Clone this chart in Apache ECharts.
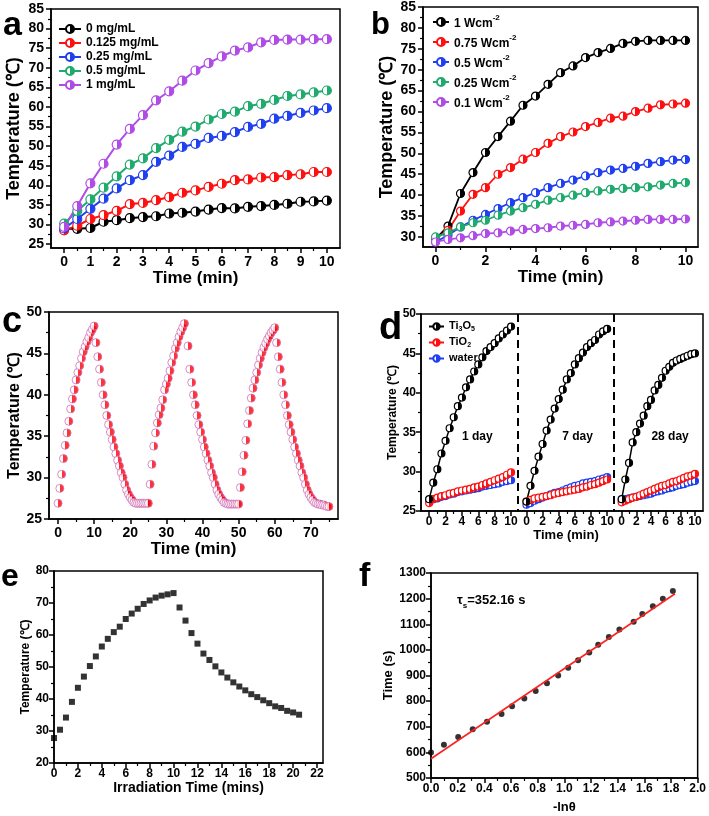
<!DOCTYPE html>
<html><head><meta charset="utf-8">
<script src="https://cdn.jsdelivr.net/npm/echarts@6/dist/echarts.min.js"></script>
<style>html,body{margin:0;padding:0;background:#fff}#c{width:709px;height:816px}</style>
</head><body><div id="c"></div>
<script>
// ---------------- DATA ----------------
// panel a
const aTime = [0,0.5,1,1.5,2,2.5,3,3.5,4,4.5,5,5.5,6,6.5,7,7.5,8,8.5,9,9.5,10];
const aNames = ['0 mg/mL','0.125 mg/mL','0.25 mg/mL','0.5 mg/mL','1 mg/mL'];
const a_0    = [28.9,28.9,29.1,30.7,31.1,31.6,31.9,32.1,32.8,33.0,33.3,33.8,34.2,34.1,34.5,34.7,35.0,35.3,35.8,35.9,36.1];
const a_0125 = [28.5,29.7,31.4,32.4,33.5,35.2,35.5,36.2,37.0,38.1,38.7,39.6,40.4,41.3,41.5,42.0,42.1,42.6,42.8,43.4,43.4];
const a_025  = [29.0,31.4,34.0,36.6,39.2,41.3,42.6,46.0,47.6,49.8,50.6,52.1,52.6,53.6,54.9,55.7,57.0,57.7,58.5,59.1,59.7];
const a_05   = [30.2,33.5,36.4,39.4,42.3,45.3,46.9,49.5,51.6,53.7,55.0,56.8,58.2,58.8,60.2,60.8,61.8,62.8,63.2,63.7,64.2];
const a_1    = [29.4,34.7,40.5,45.5,50.4,54.4,57.9,61.7,64.0,66.7,69.3,71.2,72.9,74.4,75.2,76.5,77.1,77.2,77.2,77.3,77.3];
const aXLabels = [0,1,2,3,4,5,6,7,8,9,10];
const aYLabels = [25,30,35,40,45,50,55,60,65,70,75,80,85];
// panel b
const bTime = [0,0.5,1,1.5,2,2.5,3,3.5,4,4.5,5,5.5,6,6.5,7,7.5,8,8.5,9,9.5,10];
const bNames = ['1 Wcm-2','0.75 Wcm-2','0.5 Wcm-2','0.25 Wcm-2','0.1 Wcm-2'];
const b_1   = [29.5,32.6,40.4,45.4,50.2,54.0,57.7,61.5,63.7,66.5,69.3,70.9,72.9,74.1,75.1,76.3,76.8,77.0,77.0,77.0,77.0];
const b_075 = [29.6,31.6,36.2,40.2,41.8,45.0,46.6,48.6,50.2,52.4,54.0,55.1,56.4,57.4,58.4,58.9,60.0,60.8,61.6,61.8,62.0];
const b_05  = [28.8,30.4,32.4,34.0,35.4,36.8,38.2,39.4,40.6,41.8,42.8,43.6,44.6,45.4,46.0,46.4,46.9,47.6,48.0,48.4,48.5];
const b_025 = [30.0,31.0,32.4,33.4,34.0,35.2,36.2,37.0,37.8,38.8,39.4,40.0,40.6,41.0,41.4,41.6,41.8,42.0,42.4,42.8,43.0];
const b_01  = [28.8,29.4,29.8,30.3,30.8,31.0,31.4,31.8,32.0,32.2,32.6,32.8,33.0,33.4,33.6,33.8,34.0,34.2,34.2,34.2,34.3];
const bXLabels = [0,2,4,6,8,10];
const bYLabels = [30,35,40,45,50,55,60,65,70,75,80,85];
// panel c (heating / cooling cycles, 0.5 min sampling)
const cHeat1Start = 0,  cHeat1 = [26.9,28.7,30.4,32.3,33.9,35.4,36.8,38.3,39.5,40.6,41.8,42.7,43.5,44.4,45.2,45.8,46.4,46.9,47.5,47.9,48.3];
const cCool1Start = 10.5, cCool1 = [46.3,44.6,43.1,41.5,40.0,38.8,37.5,36.4,35.5,34.6,33.7,32.9,32.1,31.4,30.6,30.0,29.2,28.5,28.0,27.6,27.3,27.0,26.9,26.9,26.9,26.9,26.9,26.9,26.9];
const cHeat2Start = 25, cHeat2 = [26.9,29.2,31.6,33.8,35.4,36.6,37.6,38.4,39.4,40.6,41.3,42.0,42.9,43.9,44.7,45.6,46.3,47.0,47.6,48.1,48.6];
const cCool2Start = 36, cCool2 = [45.9,43.1,41.5,40.0,38.8,37.5,36.4,35.5,34.6,33.7,32.9,32.1,31.4,30.6,30.0,29.2,28.5,28.0,27.6,27.3,27.0,26.9,26.8,26.8,26.8,26.8,26.8,26.8];
const cHeat3Start = 50, cHeat3 = [26.8,28.8,30.7,32.7,34.5,36.5,38.1,39.6,40.8,41.8,42.7,43.6,44.4,45.1,45.7,46.2,46.7,47.1,47.5,47.8,48.1];
const cCool3Start = 60.5, cCool3 = [46.3,44.6,43.1,41.5,40.0,38.8,37.5,36.4,35.5,34.6,33.7,32.9,32.1,31.4,30.6,30.0,29.2,28.5,28.0,27.6,27.3,27.0,26.9,26.8,26.8,26.7,26.7,26.6,26.5,26.5];
const cStep = 0.5;
const cXLabels = [0,10,20,30,40,50,60,70];
const cYLabels = [25,30,35,40,45,50];
// panel d
const dTime = [0,0.5,1,1.5,2,2.5,3,3.5,4,4.5,5,5.5,6,6.5,7,7.5,8,8.5,9,9.5,10];
const dNames = ['Ti3O5','TiO2','water'];
const dDays = ['1 day','7 day','28 day'];
const d1_Ti3O5 = [26.5,28.6,30.3,32.3,33.9,35.5,36.9,38.3,39.4,40.7,41.7,42.7,43.6,44.5,45.3,45.8,46.3,46.9,47.4,47.9,48.4];
const d1_TiO2  = [26.0,26.5,26.7,26.9,27.0,27.2,27.3,27.5,27.6,27.7,27.8,28.0,28.1,28.3,28.5,28.7,28.9,29.1,29.3,29.6,29.9];
const d1_water = [26.4,26.5,26.6,26.8,26.9,27.1,27.2,27.4,27.5,27.6,27.7,27.8,27.9,28.1,28.2,28.3,28.4,28.5,28.7,28.8,28.9];
const d2_Ti3O5 = [26.2,28.2,30.1,31.9,33.5,35.2,36.6,38.0,39.2,40.4,41.7,42.5,43.6,44.4,45.1,45.8,46.3,46.7,47.4,47.8,48.1];
const d2_TiO2  = [26.2,26.4,26.6,26.7,26.8,26.9,27.0,27.2,27.3,27.4,27.5,27.6,27.7,27.8,28.0,28.1,28.3,28.4,28.6,28.8,29.0];
const d2_water = [25.8,26.0,26.3,26.5,26.7,26.9,27.1,27.3,27.4,27.6,27.8,28.0,28.2,28.3,28.5,28.6,28.7,28.8,29.0,29.1,29.3];
const d3_Ti3O5 = [26.5,29.0,31.1,33.7,35.0,36.1,37.1,38.3,39.1,40.3,41.0,41.9,42.8,43.3,43.8,44.1,44.3,44.5,44.7,44.9,45.0];
const d3_TiO2  = [26.1,26.3,26.5,26.7,26.8,27.0,27.2,27.4,27.6,27.8,28.0,28.2,28.3,28.5,28.7,28.8,29.0,29.2,29.4,29.5,29.7];
const d3_water = [26.4,26.5,26.6,26.7,26.8,26.9,27.0,27.1,27.2,27.4,27.5,27.6,27.8,27.9,28.0,28.2,28.3,28.4,28.6,28.7,28.8];
const dXLabels = [0,2,4,6,8,10];
const dYLabels = [25,30,35,40,45,50];
// panel e
const eTime = [0,0.5,1,1.5,2,2.5,3,3.5,4,4.5,5,5.5,6,6.5,7,7.5,8,8.5,9,9.5,10,10.5,11,11.5,12,12.5,13,13.5,14,14.5,15,15.5,16,16.5,17,17.5,18,18.5,19,19.5,20,20.5];
const eTemp = [27.8,30.4,34.2,39.1,43.5,47.0,50.3,53.3,56.4,58.8,60.9,62.6,65.0,66.7,68.2,69.7,70.8,71.7,72.3,72.7,73.1,68.6,64.5,60.6,57.3,54.2,52.2,50.2,48.3,46.7,45.2,43.9,42.7,41.5,40.6,39.6,38.7,37.7,37.2,36.3,35.8,35.1];
const eXLabels = [0,2,4,6,8,10,12,14,16,18,20,22];
const eYLabels = [20,30,40,50,60,70,80];
// panel f
const fX = [0,0.097,0.204,0.313,0.420,0.529,0.608,0.700,0.785,0.870,0.954,1.029,1.103,1.187,1.254,1.334,1.413,1.520,1.585,1.664,1.739,1.814];
const fY = [600,630,660,690,720,750,780,810,840,870,900,930,960,990,1020,1050,1080,1110,1140,1170,1200,1230];
const fFitX = [0,1.83];
const fFitY = [575,1219];
const fXLabels = [0,0.2,0.4,0.6,0.8,1.0,1.2,1.4,1.6,1.8,2.0];
const fYLabels = [500,600,700,800,900,1000,1100,1200,1300];

// ---------------- CHART ----------------
const FONT = '"Liberation Sans", Arial, Helvetica, sans-serif';
const C = {black:'#000000', red:'#ff1010', blue:'#2040f0', green:'#1faa6e', purple:'#b04ce6'};
function mids(arr){ const r=[]; for(let i=0;i<arr.length-1;i++) r.push((arr[i]+arr[i+1])/2); return r; }
function xy(xs, ys){ return xs.map((x,i)=>[x, ys[i]]); }
function seq(start, vals){ return vals.map((v,i)=>[start + i*cStep, v]); }
function half(c){
  return new echarts.graphic.LinearGradient(0,0,1,0,[
    {offset:0,color:'#ffffff'},{offset:0.5,color:'#ffffff'},{offset:0.5,color:c},{offset:1,color:c}]);
}
const plain = v => String(v);

const L = {
  a:{left:51, top:9, width:289, height:239},
  b:{left:423, top:7, width:275, height:240},
  c:{left:49, top:312, width:289, height:207},
  d1:{left:421, top:314, width:97, height:197},
  d2:{left:518, top:314, width:96, height:197},
  d3:{left:614, top:314, width:89, height:197},
  e:{left:54, top:571, width:269, height:192},
  f:{left:431, top:573, width:268, height:205}
};
const frame = {show:true, borderColor:'#000', borderWidth:1.5, backgroundColor:'transparent'};
const grid = [
  Object.assign({}, L.a, frame),
  Object.assign({}, L.b, frame),
  Object.assign({}, L.c, frame),
  Object.assign({}, L.d1, {show:false}),
  Object.assign({}, L.d2, {show:false}),
  Object.assign({}, L.d3, {show:false}),
  Object.assign({}, L.e, frame),
  Object.assign({}, L.f, frame)
];

const xAxis = [], yAxis = [];
function addAxis(list, dim, gi, min, max, labels, minor, o){
  o = o || {};
  const pos = dim === 'x' ? 'bottom' : 'left';
  const base = {type:'value', gridIndex:gi, min:min, max:max, position:pos, splitLine:{show:false}, silent:true};
  const lab = {show:!o.hide, customValues:labels, fontFamily:FONT, fontWeight:'bold', fontSize:o.size||13, color:'#000', margin:o.margin||7,
    formatter:o.fmt || plain};
  const main = Object.assign({}, base, {
    name:o.name||'', nameLocation:'middle', nameGap:o.gap||20,
    nameTextStyle:{fontFamily:FONT, fontWeight:'bold', fontSize:o.nameSize||14, color:'#000'},
    axisLine:{show:!o.hide, onZero:false, lineStyle:{color:'#000', width:1.5}},
    axisTick:{show:!o.hide, customValues:labels, length:5, lineStyle:{color:'#000', width:1.5}},
    axisLabel:lab
  });
  list.push(main);
  const idx = list.length - 1;
  if (minor && !o.hide) {
    list.push(Object.assign({}, base, {
      axisLine:{show:false, onZero:false},
      axisTick:{show:true, customValues:minor, length:3, lineStyle:{color:'#000', width:1.2}},
      axisLabel:{show:false}
    }));
  }
  return idx;
}

const ax = {}, ay = {};
ax.a = addAxis(xAxis,'x',0,-0.5,10.5,aXLabels,mids(aXLabels),{name:'Time (min)',gap:22,nameSize:17,size:14});
ay.a = addAxis(yAxis,'y',0,24,85,aYLabels,mids(aYLabels),{name:'Temperature (\u2103)',gap:28,nameSize:18,size:14});
ax.b = addAxis(xAxis,'x',1,-0.5,10.5,bXLabels,mids(bXLabels),{name:'Time (min)',gap:21,nameSize:17,size:14});
ay.b = addAxis(yAxis,'y',1,27.6,85,bYLabels,mids(bYLabels),{name:'Temperature (\u2103)',gap:25,nameSize:18,size:14});
ax.c = addAxis(xAxis,'x',2,-2.5,77.5,cXLabels,mids(cXLabels).concat([75]),{name:'Time (min)',gap:20,nameSize:17,size:14});
ay.c = addAxis(yAxis,'y',2,25,50,cYLabels,mids(cYLabels),{name:'Temperature (\u2103)',gap:22,nameSize:16,size:14});
ax.d1 = addAxis(xAxis,'x',3,-1,10.85,dXLabels,mids(dXLabels),{size:12,margin:5});
ax.d2 = addAxis(xAxis,'x',4,-1.05,10.85,dXLabels,mids(dXLabels),{size:12,margin:5,name:'Time (min)',gap:17,nameSize:13});
ax.d3 = addAxis(xAxis,'x',5,-1.05,11.1,dXLabels,mids(dXLabels),{size:12,margin:5});
ay.d1 = addAxis(yAxis,'y',3,25,50,dYLabels,mids(dYLabels),{size:12,margin:5,name:'Temperature (\u2103)',gap:19,nameSize:12});
ay.d2 = addAxis(yAxis,'y',4,25,50,dYLabels,null,{hide:true});
ay.d3 = addAxis(yAxis,'y',5,25,50,dYLabels,null,{hide:true});
ax.e = addAxis(xAxis,'x',6,0,22.5,eXLabels,mids(eXLabels),{name:'Irradiation Time (mins)',gap:18,nameSize:14,size:12,margin:5});
ay.e = addAxis(yAxis,'y',6,20,80,eYLabels,mids(eYLabels),{name:'Temperature (\u2103)',gap:21,nameSize:12,size:12,margin:5});
ax.f = addAxis(xAxis,'x',7,0,2.0,fXLabels,mids(fXLabels),{name:'-ln\u03b8',gap:23,nameSize:13,size:12,margin:5,fmt:v=>Number(v).toFixed(1)});
ay.f = addAxis(yAxis,'y',7,500,1300,fYLabels,mids(fYLabels),{name:'Time (s)',gap:33,nameSize:13,size:12,margin:5});

function lineS(name, xi, yi, xs, ys, color, size, lw){
  return {type:'line', name:name, xAxisIndex:xi, yAxisIndex:yi, data:xy(xs,ys), symbol:'circle', symbolSize:size,
    showAllSymbol:true, color:color, lineStyle:{color:color, width:lw},
    itemStyle:{color:half(color), borderColor:color, borderWidth:1.2}, emphasis:{disabled:true}};
}
const series = [];
[[a_0,C.black],[a_0125,C.red],[a_025,C.blue],[a_05,C.green],[a_1,C.purple]].forEach((p,i)=>{
  series.push(lineS(aNames[i], ax.a, ay.a, aTime, p[0], p[1], 9, 2));
});
[[b_1,C.black],[b_075,C.red],[b_05,C.blue],[b_025,C.green],[b_01,C.purple]].forEach((p,i)=>{
  series.push(lineS(bNames[i], ax.b, ay.b, bTime, p[0], p[1], 8, 1.8));
});
const cData = [].concat(seq(cHeat1Start,cHeat1), seq(cCool1Start,cCool1), seq(cHeat2Start,cHeat2),
  seq(cCool2Start,cCool2), seq(cHeat3Start,cHeat3), seq(cCool3Start,cCool3));
series.push({type:'scatter', name:'cycles', xAxisIndex:ax.c, yAxisIndex:ay.c, data:cData, symbol:'circle', symbolSize:8,
  itemStyle:{color:half('#ff0000'), borderColor:'#d070b8', borderWidth:1}, emphasis:{disabled:true}});
const dSets = [[d1_Ti3O5,d1_TiO2,d1_water],[d2_Ti3O5,d2_TiO2,d2_water],[d3_Ti3O5,d3_TiO2,d3_water]];
const dX = [ax.d1, ax.d2, ax.d3], dY = [ay.d1, ay.d2, ay.d3];
dSets.forEach((set, k)=>{
  series.push(lineS(dNames[2], dX[k], dY[k], dTime, set[2], C.blue, 7, 1.5));
  series.push(lineS(dNames[1], dX[k], dY[k], dTime, set[1], C.red, 7, 1.5));
  series.push(lineS(dNames[0], dX[k], dY[k], dTime, set[0], C.black, 7, 1.5));
});
series.push({type:'scatter', name:'e', xAxisIndex:ax.e, yAxisIndex:ay.e, data:xy(eTime,eTemp), symbol:'rect', symbolSize:6,
  itemStyle:{color:'#000'}, emphasis:{disabled:true}});
series.push({type:'line', name:'fit', xAxisIndex:ax.f, yAxisIndex:ay.f, data:xy(fFitX,fFitY), symbol:'none',
  lineStyle:{color:'#ff2020', width:1.6}, emphasis:{disabled:true}});
series.push({type:'scatter', name:'f', xAxisIndex:ax.f, yAxisIndex:ay.f, data:xy(fX,fY), symbol:'circle', symbolSize:6,
  itemStyle:{color:'#000'}, emphasis:{disabled:true}});

const legTxt = {fontFamily:FONT, fontWeight:'bold', fontSize:12, color:'#000'};
const legend = [
  {data:aNames, orient:'vertical', left:53, top:18, itemWidth:22, itemHeight:10, itemGap:2, selectedMode:false, textStyle:legTxt},
  {data:bNames, orient:'vertical', left:427, top:9, itemWidth:16, itemHeight:10, itemGap:4, selectedMode:false,
    formatter:n=>'{n|'+n.replace('-2','')+'}{s|-2}',
    textStyle:{fontFamily:FONT, fontWeight:'bold', color:'#000', rich:{
      n:{fontFamily:FONT, fontWeight:'bold', fontSize:12, color:'#000', lineHeight:16, verticalAlign:'bottom'},
      s:{fontFamily:FONT, fontWeight:'bold', fontSize:8, color:'#000', lineHeight:16, verticalAlign:'top'}}}},
  {data:dNames, orient:'vertical', left:423, top:315, itemWidth:15, itemHeight:8, itemGap:3, selectedMode:false,
    formatter:n=>n==='Ti3O5'?'{n|Ti}{s|3}{n|O}{s|5}':(n==='TiO2'?'{n|TiO}{s|2}':'{n|'+n+'}'),
    textStyle:{fontFamily:FONT, color:'#000', rich:{
      n:{fontFamily:FONT, fontWeight:'bold', fontSize:11, color:'#000', lineHeight:13, verticalAlign:'top'},
      s:{fontFamily:FONT, fontWeight:'bold', fontSize:7, color:'#000', lineHeight:13, verticalAlign:'bottom'}}}}
];

function panelLabel(t, x, y, fs){
  return {type:'text', x:x, y:y, silent:true, style:{text:t, font:'bold '+fs+'px '+FONT, fill:'#000', textVerticalAlign:'middle'}};
}
const dL = L.d1.left, dT = L.d1.top, dR = L.d3.left + L.d3.width, dB = L.d1.top + L.d1.height;
const graphic = [
  panelLabel('a', 3, 26, 34), panelLabel('b', 371, 25, 31), panelLabel('c', 2, 322, 36),
  panelLabel('d', 379, 329, 38), panelLabel('e', 1, 577, 32), panelLabel('f', 359, 577, 34),
  {type:'rect', silent:true, shape:{x:dL, y:dT, width:dR-dL, height:dB-dT}, style:{fill:'none', stroke:'#000', lineWidth:1.5}},
  {type:'line', silent:true, shape:{x1:L.d2.left, y1:dT, x2:L.d2.left, y2:dB}, style:{stroke:'#000', lineWidth:2, lineDash:[8,5]}},
  {type:'line', silent:true, shape:{x1:L.d3.left, y1:dT, x2:L.d3.left, y2:dB}, style:{stroke:'#000', lineWidth:2, lineDash:[8,5]}},
  {type:'text', silent:true, x:L.d1.left + L.d1.width*0.58, y:437, style:{text:dDays[0], font:'bold 12px '+FONT, fill:'#000', textAlign:'center', textVerticalAlign:'middle'}},
  {type:'text', silent:true, x:L.d2.left + L.d2.width*0.62, y:437, style:{text:dDays[1], font:'bold 12px '+FONT, fill:'#000', textAlign:'center', textVerticalAlign:'middle'}},
  {type:'text', silent:true, x:L.d3.left + L.d3.width*0.63, y:437, style:{text:dDays[2], font:'bold 12px '+FONT, fill:'#000', textAlign:'center', textVerticalAlign:'middle'}},
  {type:'text', silent:true, x:457, y:602, style:{text:'{t|\u03c4}{s|s}{t|=352.16 s}', fill:'#000', textVerticalAlign:'middle',
    rich:{t:{font:'bold 13px '+FONT, fill:'#000', lineHeight:16, verticalAlign:'top'}, s:{font:'bold 8px '+FONT, fill:'#000', lineHeight:16, verticalAlign:'bottom'}}}}
];

const chart = echarts.init(document.getElementById('c'), null, {renderer:'canvas'});
chart.setOption({animation:false, backgroundColor:'#fff', grid:grid, xAxis:xAxis, yAxis:yAxis, series:series, legend:legend, graphic:graphic, tooltip:{show:false}});
</script></body></html>
